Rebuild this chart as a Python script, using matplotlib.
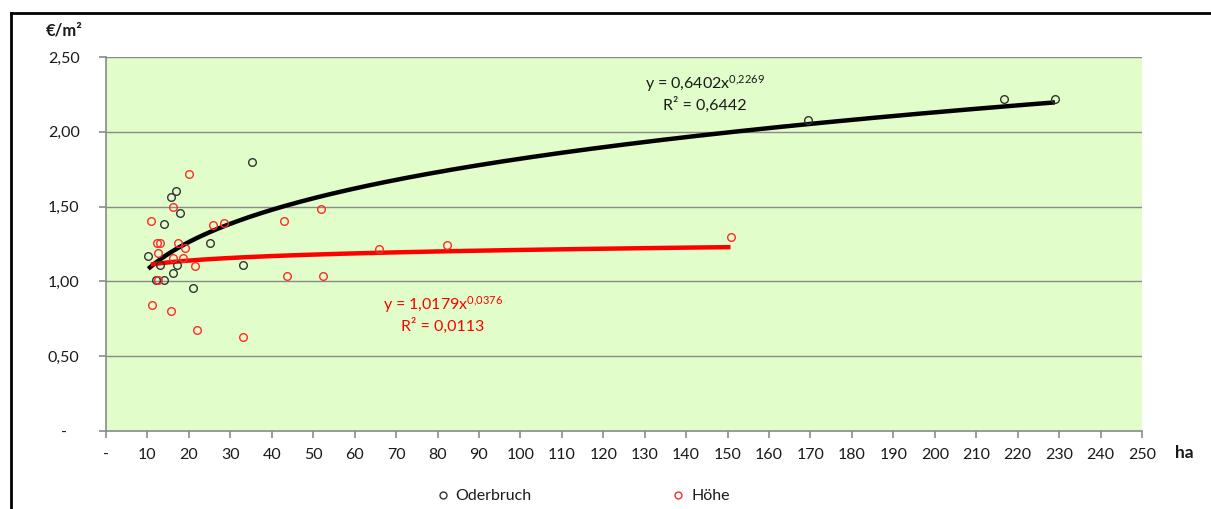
import numpy as np
import matplotlib.pyplot as plt
from matplotlib.lines import Line2D

plt.rcParams['font.family'] = ['Lato', 'DejaVu Sans']
plt.rcParams['mathtext.fontset'] = 'custom'
plt.rcParams['mathtext.rm'] = 'Lato'
plt.rcParams['mathtext.it'] = 'Lato'

# Oderbruch (ha, EUR/m2)
oder_x = [35.2, 16.9, 15.8, 17.9, 14.1, 25.1, 10.2, 13.0, 17.1, 16.2, 12.0, 14.0,
          21.1, 33.0, 169.3, 216.7, 229.0]
oder_y = [1.795, 1.607, 1.565, 1.458, 1.385, 1.26, 1.17, 1.11, 1.11, 1.055, 1.01, 1.01,
          0.955, 1.108, 2.08, 2.22, 2.22]

# Höhe (ha, EUR/m2)
hoehe_x = [20.1, 16.2, 10.8, 25.9, 28.5, 43.0, 12.2, 13.0, 17.4, 19.1, 12.6, 16.2,
           18.7, 21.5, 12.6, 11.1, 15.6, 22.0, 33.0, 43.7, 52.0, 52.4, 65.9, 82.4, 150.7]
hoehe_y = [1.717, 1.50, 1.405, 1.378, 1.389, 1.405, 1.26, 1.26, 1.26, 1.22, 1.19, 1.155,
           1.155, 1.10, 1.01, 0.843, 0.803, 0.676, 0.627, 1.037, 1.483, 1.037, 1.217, 1.244, 1.296]

# power trend lines y = a * x^b as printed on the chart
oder_fit = (0.6402, 0.2269)
hoehe_fit = (1.0179, 0.0376)

x_ticks = list(range(0, 251, 10))
x_ticklabels = ['-'] + [str(v) for v in x_ticks[1:]]
y_ticks = [0, 0.5, 1.0, 1.5, 2.0, 2.5]
y_ticklabels = ['-   ', '0,50', '1,00', '1,50', '2,00', '2,50']

GRAY = '#8a8a8a'
TXT = '#1a1a1a'
FS = 11.5

fig = plt.figure(figsize=(12.11, 5.09), dpi=100)
ax = fig.add_axes([106 / 1211, 78 / 509, 1036 / 1211, 374 / 509])
ax.set_facecolor('#e0fdca')

# outer chart frame (cut on the right and bottom)
fig.add_artist(Line2D([11 / 1211, 11 / 1211], [0, 496 / 509], color='black', lw=2))
fig.add_artist(Line2D([11 / 1211, 1], [496 / 509, 496 / 509], color='black', lw=2))

for v in y_ticks[1:]:
    ax.axhline(v, color=GRAY, lw=1, zorder=1)

for fit, xs, col in [(oder_fit, oder_x, 'black'), (hoehe_fit, hoehe_x, '#ff0000')]:
    xx = np.linspace(min(xs), max(xs), 300)
    ax.plot(xx, fit[0] * xx ** fit[1], color=col, lw=3.2, zorder=2, solid_capstyle='butt')

ax.plot(oder_x, oder_y, 'o', mfc='none', mec='#333333', ms=5.5, mew=1, zorder=3)
ax.plot(hoehe_x, hoehe_y, 'o', mfc='none', mec='#ff2a2a', ms=5.5, mew=1, zorder=3)

ax.set_xlim(0, 250)
ax.set_ylim(0, 2.5)
ax.set_xticks(x_ticks)
ax.set_xticklabels(x_ticklabels)
ax.set_yticks(y_ticks)
ax.set_yticklabels(y_ticklabels)
for s in ['top', 'right']:
    ax.spines[s].set_visible(False)
for s in ['left', 'bottom']:
    ax.spines[s].set_color(GRAY)
    ax.spines[s].set_linewidth(1.2)
ax.tick_params(axis='x', direction='out', length=5, color=GRAY, width=1.2,
               pad=7, labelsize=FS, labelcolor=TXT)
ax.tick_params(axis='y', direction='out', length=5, color=GRAY, width=1.2,
               pad=14, labelsize=FS, labelcolor=TXT)

fig.text(46 / 1211, 1 - 30 / 509, '€/m²', fontsize=12, fontweight='bold',
         color=TXT, va='center', ha='left')
fig.text(1175 / 1211, 1 - 453 / 509, 'ha', fontsize=12.5, fontweight='bold',
         color=TXT, va='center', ha='left')

ax.text(705, 84, r'y = 0,6402x$^{0{,}2269}$', transform=None, fontsize=FS,
        color=TXT, ha='center', va='center')
ax.text(705, 105, 'R² = 0,6442', transform=None, fontsize=FS,
        color=TXT, ha='center', va='center')
ax.text(443, 305, r'y = 1,0179x$^{0{,}0376}$', transform=None, fontsize=FS,
        color='#ff0000', ha='center', va='center')
ax.text(443, 326, 'R² = 0,0113', transform=None, fontsize=FS,
        color='#ff0000', ha='center', va='center')

# text placed in pixel coordinates from the top (flip y)
for t in ax.texts:
    x, y = t.get_position()
    t.set_position((x / 1211, 1 - y / 509))
    t.set_transform(fig.transFigure)

handles = [
    Line2D([0], [0], marker='o', ls='none', mfc='none', mec='#333333', ms=5, mew=1),
    Line2D([0], [0], marker='o', ls='none', mfc='none', mec='#ff2a2a', ms=5, mew=1),
]
fig.legend(handles, ['Oderbruch', 'Höhe'], loc='center',
           bbox_to_anchor=(583 / 1211, 1 - 496 / 509), ncol=2, frameon=False,
           fontsize=FS, handlelength=0.8, handletextpad=0.4, columnspacing=8.8,
           labelcolor=TXT)

fig.savefig('out.png', dpi=100)
